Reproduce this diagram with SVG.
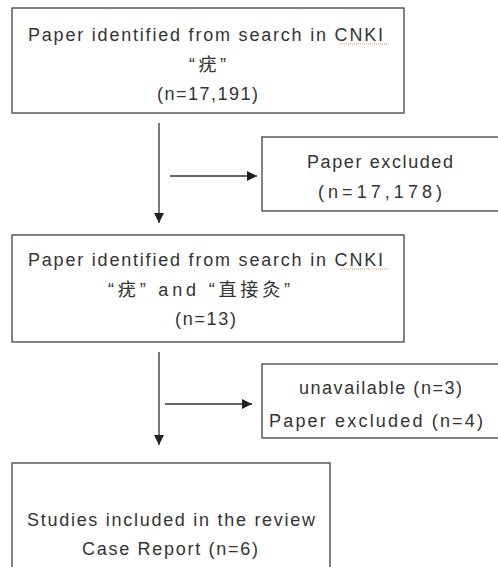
<svg xmlns="http://www.w3.org/2000/svg" width="498" height="567" viewBox="0 0 498 567">
  <style>
    .box { fill: #ffffff; stroke: #404040; stroke-width: 1.3; }
    .t { font-family: "Liberation Sans", "Noto Sans CJK SC", sans-serif; font-size: 18px; fill: #333333; }
    .c { text-anchor: middle; }
    .conn { stroke: #333333; stroke-width: 1.3; fill: none; }
    .spell { stroke: #e0a040; stroke-width: 1; stroke-dasharray: 1 1; fill: none; }
  </style>
  <defs>
    <marker id="ah" viewBox="0 0 10 10" refX="10" refY="5" markerWidth="10" markerHeight="10" markerUnits="userSpaceOnUse" orient="auto">
      <path d="M0,0 L10,5 L0,10 Z" fill="#222222"/>
    </marker>
  </defs>
  <rect width="498" height="567" fill="#ffffff"/>

  <g id="node-search1">
    <rect class="box" x="12" y="8" width="392" height="105"/>
    <text class="t" x="28" y="41" textLength="355" lengthAdjust="spacing">Paper identified from search in CNKI</text>
    <path class="spell" d="M340,44 L389,44"/>
    <text class="t" x="189" y="71" textLength="37" lengthAdjust="spacing">“疣”</text>
    <text class="t" x="157" y="100" textLength="101" lengthAdjust="spacing">(n=17,191)</text>
  </g>

  <g id="node-excluded1">
    <rect class="box" x="262" y="137" width="240" height="74"/>
    <text class="t" x="307" y="168" textLength="146" lengthAdjust="spacing">Paper excluded</text>
    <text class="t" x="318" y="198" textLength="124" lengthAdjust="spacing">(n=17,178)</text>
  </g>

  <g id="node-search2">
    <rect class="box" x="12" y="235" width="392" height="107"/>
    <text class="t" x="28" y="266" textLength="355" lengthAdjust="spacing">Paper identified from search in CNKI</text>
    <path class="spell" d="M340,269 L389,269"/>
    <text class="t" x="108" y="296" textLength="182" lengthAdjust="spacing">“疣” and “直接灸”</text>
    <text class="t" x="175" y="325" textLength="61" lengthAdjust="spacing">(n=13)</text>
  </g>

  <g id="node-excluded2">
    <rect class="box" x="262" y="364" width="240" height="74"/>
    <text class="t" x="299" y="394" textLength="163" lengthAdjust="spacing">unavailable (n=3)</text>
    <text class="t" x="269" y="427" textLength="214" lengthAdjust="spacing">Paper excluded (n=4)</text>
  </g>

  <g id="node-included">
    <rect class="box" x="12" y="463" width="318" height="130"/>
    <text class="t" x="27" y="526" textLength="288" lengthAdjust="spacing">Studies included in the review</text>
    <text class="t" x="82" y="555" textLength="176" lengthAdjust="spacing">Case Report (n=6)</text>
  </g>

  <g id="connectors">
    <line class="conn" x1="159" y1="123" x2="159" y2="223" marker-end="url(#ah)"/>
    <line class="conn" x1="170" y1="176" x2="257" y2="176" marker-end="url(#ah)"/>
    <line class="conn" x1="159" y1="352" x2="159" y2="445" marker-end="url(#ah)"/>
    <line class="conn" x1="165" y1="404" x2="252" y2="404" marker-end="url(#ah)"/>
  </g>
</svg>
